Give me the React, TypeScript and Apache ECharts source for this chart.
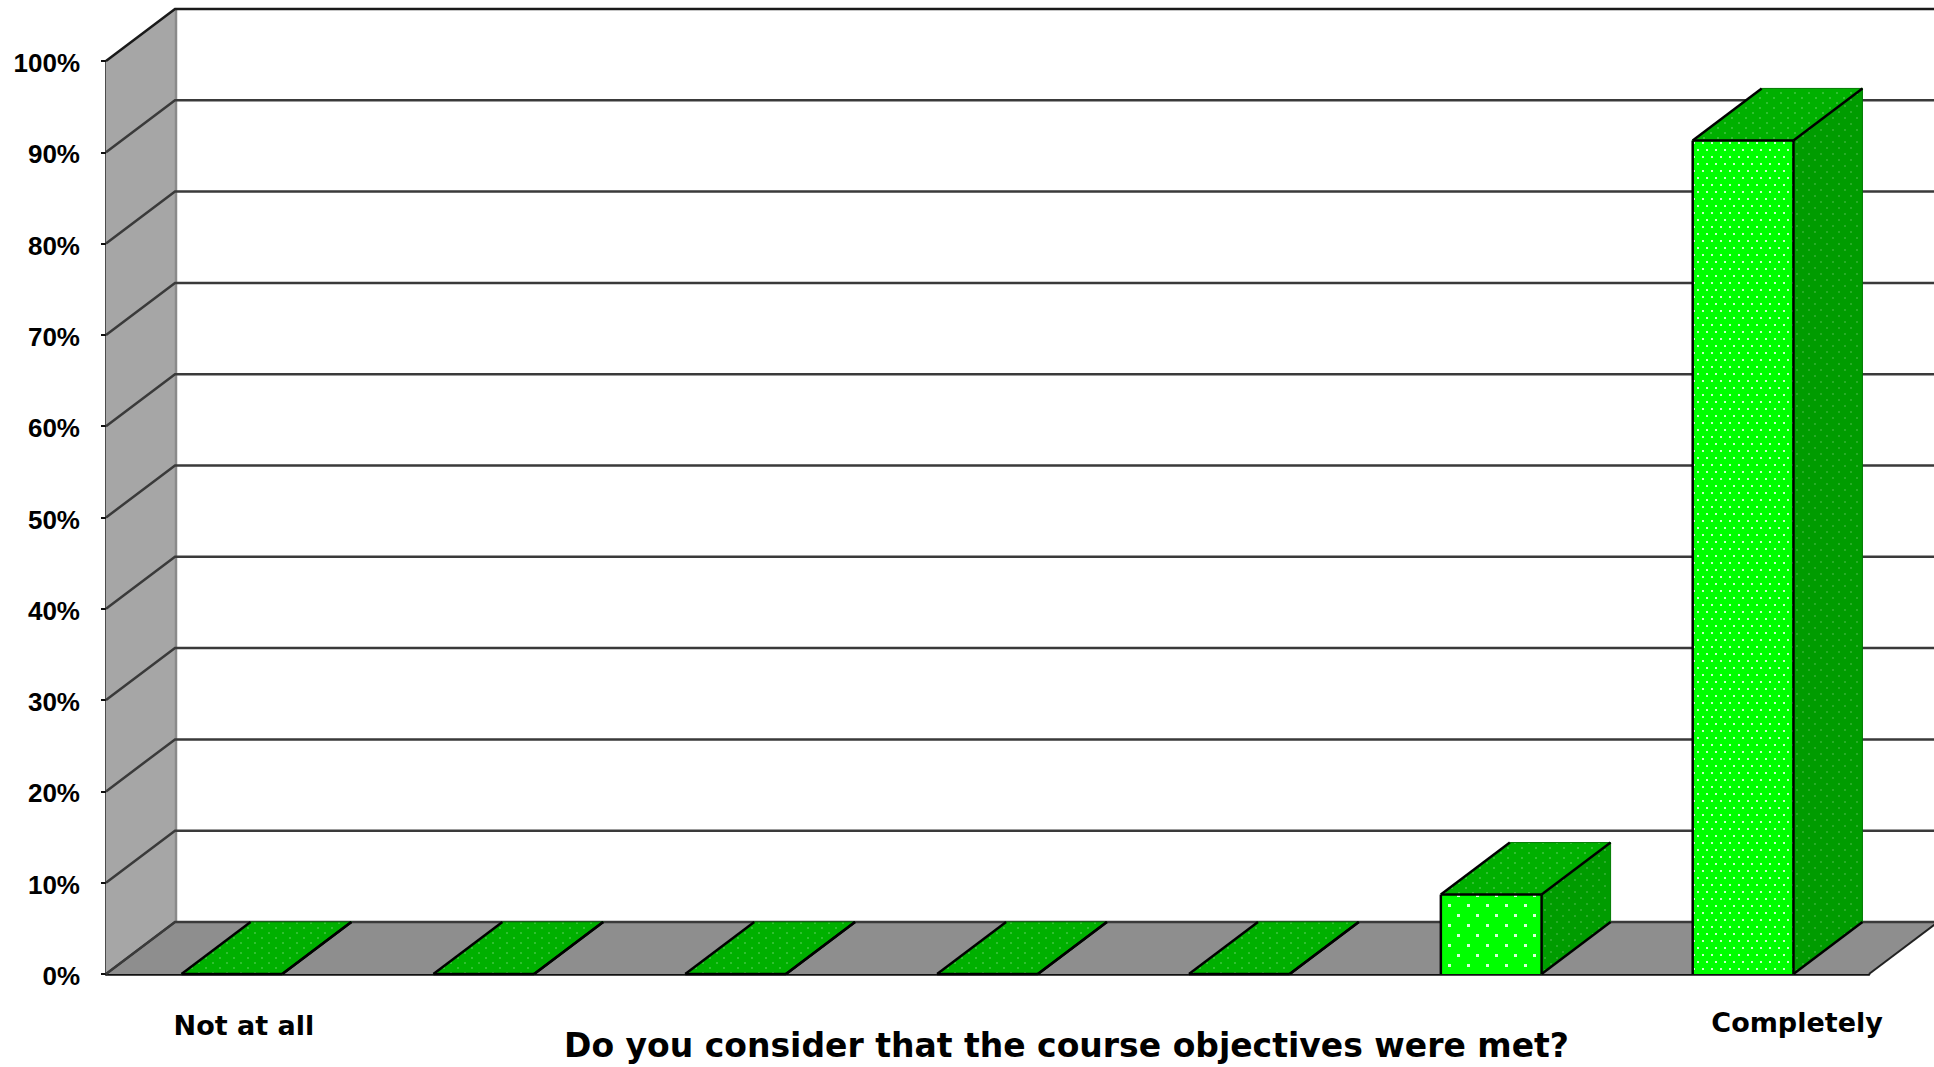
import React, { useEffect, useRef } from "react";
import * as echarts from "echarts";

const categories = ["Not at all", "", "", "", "", "", "Completely"];
const values = [0, 0, 0, 0, 0, 8.7, 91.3];
const yTicks = [0, 10, 20, 30, 40, 50, 60, 70, 80, 90, 100];
const axisTitle = "Do you consider that the course objectives were met?";

const DX = 69;
const DY = -52;

function tile(w: number, h: number, bg: string, dot: string, pts: number[][], size = 2) {
  const c = document.createElement("canvas");
  c.width = w;
  c.height = h;
  const g = c.getContext("2d")!;
  g.fillStyle = bg;
  g.fillRect(0, 0, w, h);
  g.fillStyle = dot;
  pts.forEach(([x, y]) => g.fillRect(x, y, size, size));
  return { image: c, repeat: "repeat", imageWidth: w, imageHeight: h } as any;
}

export default function App() {
  const ref = useRef<HTMLDivElement>(null);
  useEffect(() => {
    document.body.style.margin = "0";
    const chart = echarts.init(ref.current!, undefined, { renderer: "svg" });

    const frontSparse = tile(19, 20, "#00ff00", "#d8ffd8", [[4, 4], [13, 14]], 3);
    const frontDense = tile(9, 14, "#00ff00", "#c8ffc8", [[1, 2], [5, 9]], 2);
    const topFill = tile(14, 10, "#00b000", "#30c030", [[2, 2], [9, 7]], 2);
    const sideFill = tile(12, 12, "#009c00", "#28ac28", [[2, 3], [8, 9]], 2);

    const renderWalls = (params: any) => {
      const { x, y, width: w, height: h } = params.coordSys;
      const b = y + h;
      return {
        type: "group",
        children: [
          { type: "polygon", shape: { points: [[x, b], [x + DX, b + DY], [x + DX, y + DY], [x, y]] }, style: { fill: "#a6a6a6" } },
          { type: "polygon", shape: { points: [[x, b], [x + w, b], [x + w + DX, b + DY], [x + DX, b + DY]] }, style: { fill: "#8e8e8e" } },
          { type: "line", shape: { x1: x + DX + 1, y1: y + DY, x2: x + DX + 1, y2: b + DY }, style: { stroke: "#8a8a8a", lineWidth: 2.5 } },
          { type: "line", shape: { x1: x + w, y1: b, x2: x + w + DX, y2: b + DY }, style: { stroke: "#222", lineWidth: 2 } },
          { type: "line", shape: { x1: x, y1: b, x2: x + DX, y2: b + DY }, style: { stroke: "#222", lineWidth: 2 } },
        ],
      };
    };

    const renderGrid = (params: any, api: any) => {
      const yv = api.value(0);
      const { x, width: w } = params.coordSys;
      const yy = api.coord([0, yv])[1];
      const top = yv === 100;
      return {
        type: "polyline",
        shape: { points: [[x, yy], [x + DX, yy + DY], [x + w + 200, yy + DY]] },
        style: { fill: "none", stroke: top ? "#1a1a1a" : "#3a3a3a", lineWidth: 2.5 },
      };
    };

    const renderBar = (_params: any, api: any) => {
      const c = api.coord([api.value(0), api.value(1)]);
      const b = api.coord([api.value(0), 0]);
      const band = api.size([1, 0])[0];
      const bw = band * 0.4;
      const l = c[0] - bw / 2;
      const r = l + bw;
      const t = c[1];
      const base = b[1];
      const front = base - t > 300 ? frontDense : frontSparse;
      const edge = { stroke: "#000", lineWidth: 2.5 };
      const line = (x1: number, y1: number, x2: number, y2: number) => ({
        type: "line",
        shape: { x1, y1, x2, y2 },
        style: edge,
      });
      return {
        type: "group",
        children: [
          { type: "polygon", shape: { points: [[r, t], [r + DX, t + DY], [r + DX, base + DY], [r, base]] }, style: { fill: sideFill, stroke: "#007a00", lineWidth: 1 } },
          { type: "polygon", shape: { points: [[l, t], [r, t], [r + DX, t + DY], [l + DX, t + DY]] }, style: { fill: topFill, stroke: "#007a00", lineWidth: 1 } },
          { type: "rect", shape: { x: l, y: t, width: bw, height: base - t }, style: { fill: front } },
          line(l, t, l, base),
          line(r, t, r, base),
          line(l, t, r, t),
          line(l, t, l + DX, t + DY),
          line(r, t, r + DX, t + DY),
          line(r, base, r + DX, base + DY),
        ],
      };
    };

    const yLabelStyle = { fontFamily: "Liberation Sans", fontWeight: "bold", fontSize: 26, color: "#000" };

    chart.setOption({
      animation: false,
      backgroundColor: "#ffffff",
      grid: { left: 106, right: 65, top: 61, bottom: 93, containLabel: false, outerBoundsMode: "none" },
      xAxis: {
        type: "category",
        data: [
          { value: categories[0], textStyle: { padding: [3, 0, 0, 24] } },
          ...categories.slice(1, 6),
          { value: categories[6], textStyle: { padding: [0, 0, 0, 108] } },
        ],
        name: axisTitle,
        nameLocation: "middle",
        nameMoveOverlap: false,
        nameGap: 55,
        nameTextStyle: { fontFamily: "DejaVu Sans", fontWeight: "bold", fontSize: 33, color: "#000", padding: [0, 0, 0, 158] },
        axisLine: { lineStyle: { color: "#111", width: 2.5 } },
        axisTick: { show: false },
        axisLabel: { interval: 0, margin: 35, fontFamily: "DejaVu Sans", fontWeight: "bold", fontSize: 27, color: "#000" },
      },
      yAxis: {
        type: "value",
        min: 0,
        max: 100,
        interval: 10,
        splitLine: { show: false },
        axisLine: { show: true, lineStyle: { color: "#111", width: 2.5 } },
        axisTick: { show: true, length: 5, lineStyle: { color: "#111", width: 2 } },
        axisLabel: {
          margin: 26,
          formatter: "{a|{value}%}",
          ...yLabelStyle,
          rich: { a: { ...yLabelStyle, padding: [4, 0, 0, 0] } },
        },
      },
      series: [
        { type: "custom", z: 1, silent: true, clip: false, renderItem: renderWalls, data: [[0, 0]], encode: { x: 0, y: 1 } },
        { type: "custom", z: 2, silent: true, clip: false, renderItem: renderGrid, data: yTicks.map((t) => [t]), encode: { y: 0 } },
        { type: "custom", z: 3, silent: true, clip: false, renderItem: renderBar, data: values.map((v, i) => [i, v]), encode: { x: 0, y: 1 } },
      ],
    });
    return () => chart.dispose();
  }, []);
  return <div ref={ref} style={{ width: 1934, height: 1067 }} />;
}
